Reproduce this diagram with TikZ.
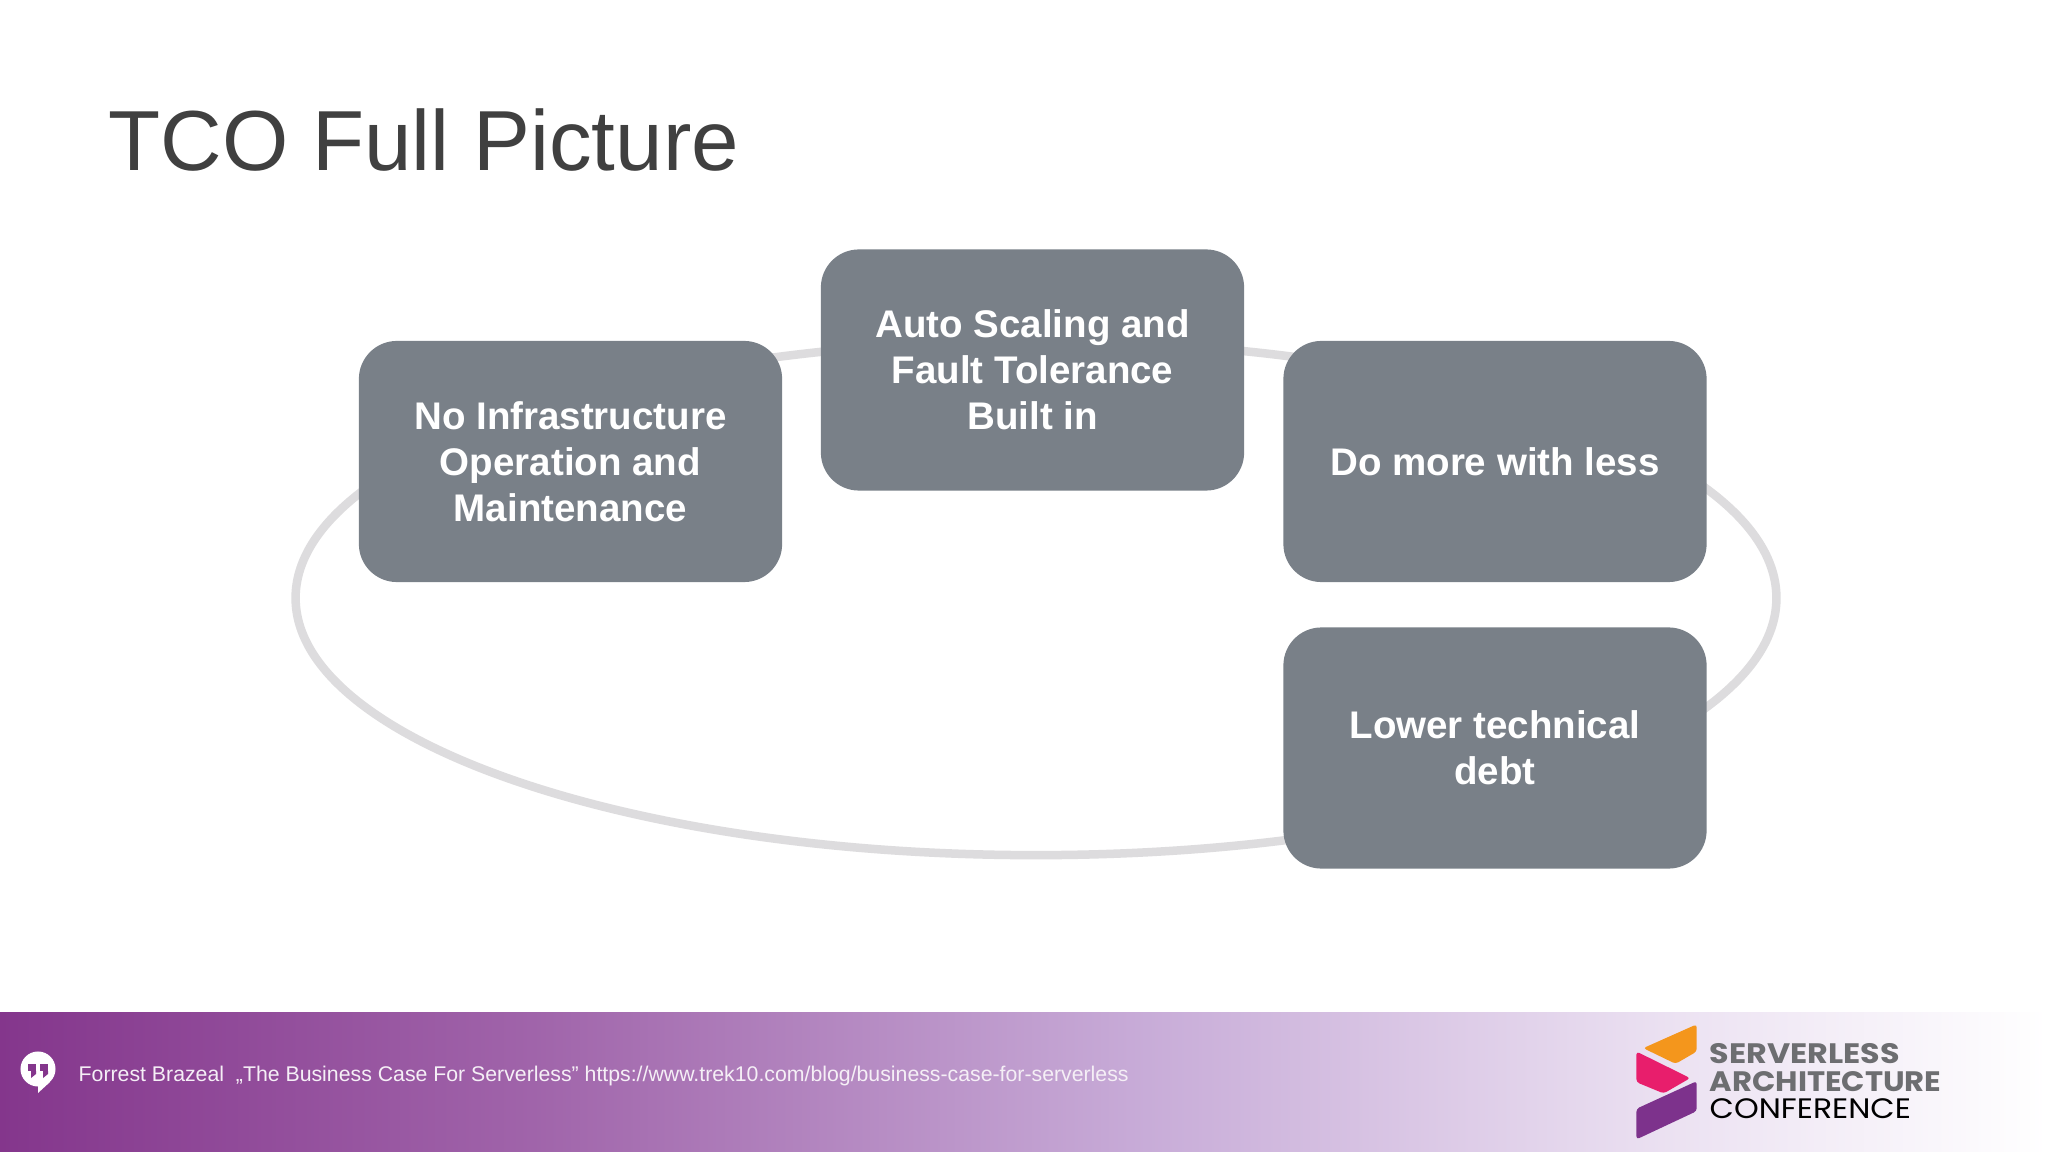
\documentclass[tikz,border=0pt]{standalone}
\usepackage{fontspec}
\setmainfont{Liberation Sans}
\newfontfamily\logofont{Poppins}
\usetikzlibrary{calc}

\definecolor{boxgray}{RGB}{121,128,136}
\definecolor{ringgray}{RGB}{221,220,222}
\definecolor{titlegray}{RGB}{64,64,64}
\definecolor{logogray}{RGB}{109,110,113}
\definecolor{logoorange}{RGB}{244,150,28}
\definecolor{logopink}{RGB}{232,30,108}
\definecolor{logopurple}{RGB}{125,50,140}
\definecolor{bandpurple}{RGB}{132,54,140}
\definecolor{bandmid}{RGB}{160,100,170}
\definecolor{bandlight}{RGB}{200,172,216}
\definecolor{bandpale}{RGB}{236,226,242}

\pgfdeclarehorizontalshading{footerband}{100bp}{
	color(0bp)=(bandpurple); color(25bp)=(bandpurple); color(38bp)=(bandmid);
	color(53bp)=(bandlight); color(66bp)=(bandpale); color(75bp)=(white); color(100bp)=(white)}

\tikzset{
	tcobox/.style={rectangle, rounded corners=3.8mm, fill=boxgray, text=white, align=center,
		minimum width=4.23cm, minimum height=2.41cm, inner sep=0pt,
		font=\fontsize{10.95}{13.1}\selectfont\bfseries},
	logotext/.style={anchor=base west, inner sep=0pt, font=\logofont\fontsize{8}{9}\selectfont}
}

\begin{document}
\begin{tikzpicture}[x=0.01cm, y=-0.01cm]
		%page and footer band
		\fill [white] (0,0) rectangle (2048,1152);
		\shade [shading=footerband] (0,1012) rectangle (2048,1152);
		
		%ring behind the boxes
		\coordinate (ringcentre) at (1036,598);
		\draw [ringgray, line width=0.85mm] (ringcentre) ellipse [x radius=7.4cm, y radius=2.57cm];
		
		%boxes
		\node [tcobox] (noinfra) at (570.5,461.5) {No Infrastructure\\Operation and\\Maintenance};
		\node [tcobox] (autoscale) at (1032.5,370) {Auto Scaling and\\Fault Tolerance\\Built in};
		\node [tcobox] (domore) at (1495,461.5) {Do more with less};
		\node [tcobox] (lowerdebt) at (1495,748) {Lower technical\\debt};
		
		%title
		\node [anchor=base west, inner sep=0pt, text=titlegray, font=\fontsize{24.25}{30}\selectfont] (title) at (108,171) {TCO Full Picture};
		
		%speech bubble
		\fill [white] (38,1069) circle [radius=0.175cm];
		\fill [white] (38,1084) -- (38,1093) -- (50,1082) -- cycle;
		\fill [bandpurple] (28,1064) rectangle (36,1071);
		\fill [bandpurple] (40,1064) rectangle (48,1071);
		\fill [bandpurple] (36,1071) -- (36,1074) -- (31,1078) -- (31,1071) -- cycle;
		\fill [bandpurple] (48,1071) -- (48,1074) -- (43,1078) -- (43,1071) -- cycle;
		
		%footer text
		\node [anchor=base west, inner sep=0pt, text=white!92!bandpurple, font=\fontsize{6.05}{8}\selectfont] (source) at (78,1081) {Forrest Brazeal\ \ „The Business Case For Serverless” https://www.trek10.com/blog/business-case-for-serverless};
		
		%logo
		\begin{scope}[shift={(1599,1009)}, x=0.0034cm, y=-0.0034cm]
			\fill [logoorange, rounded corners=0.3mm] (287,45) -- (287,125) -- (225,161) -- (130,115) -- cycle;
			\fill [logopink, rounded corners=0.3mm] (110,125) -- (268,203) -- (190,248) -- (110,215) -- cycle;
			\fill [logopurple, rounded corners=0.3mm] (287,212) -- (287,300) -- (110,383) -- (110,293) -- cycle;
		\end{scope}
		\node [logotext, text=logogray] (logoa) at (1709,1063.6) {\scalebox{1.13}[1]{\bfseries SERVERLESS}};
		\node [logotext, text=logogray] (logob) at (1709,1091) {\scalebox{1.09}[1]{\bfseries ARCHITECTURE}};
		\node [logotext, text=black] (logoc) at (1709,1118.3) {\scalebox{1.12}[1]{CONFERENCE}};
		
	\end{tikzpicture}
\end{document}
